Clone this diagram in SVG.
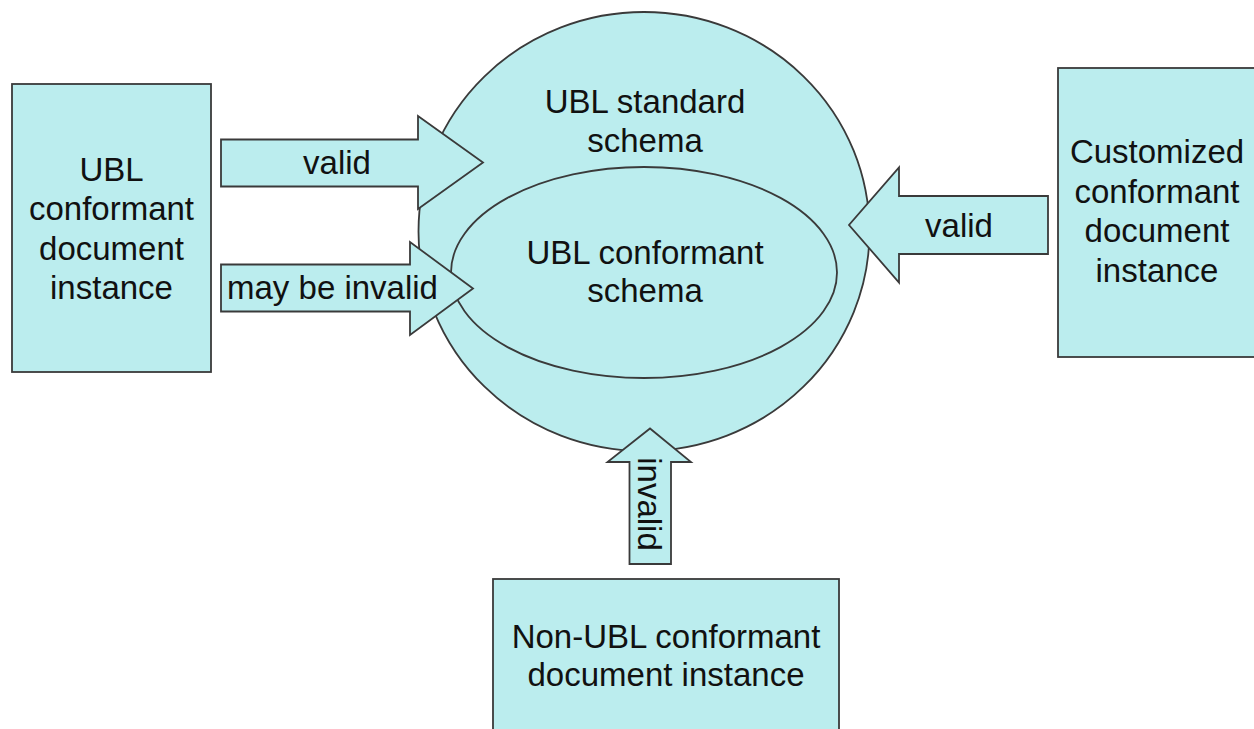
<svg xmlns="http://www.w3.org/2000/svg" width="1254" height="729" viewBox="0 0 1254 729">
<style>
.shape{fill:#BBEDEE;stroke:#3a3a3a;stroke-width:1.8;stroke-linejoin:miter}
.t{font-family:"Liberation Sans",Arial,sans-serif;font-size:33px;fill:#111;text-anchor:middle}
</style>
<rect width="1254" height="729" fill="#ffffff"/>
<g id="standard-schema">
<ellipse class="shape" cx="644" cy="231.5" rx="225.5" ry="219.5"/>
<text class="t" x="645" y="113">UBL standard</text>
<text class="t" x="645" y="152">schema</text>
</g>
<g id="conformant-schema">
<ellipse class="shape" cx="644" cy="272.5" rx="193" ry="105.5"/>
<text class="t" x="645" y="264">UBL conformant</text>
<text class="t" x="645" y="302">schema</text>
</g>
<g id="connectors">
<g id="arrow-valid-left">
<polygon class="shape" points="221,139.5 418,139.5 418,116 483,162.5 418,209 418,186.5 221,186.5"/>
<text class="t" x="337" y="174">valid</text>
</g>
<g id="arrow-may-be-invalid">
<polygon class="shape" points="221,264.5 410,264.5 410,242 473,288.5 410,335 410,311.5 221,311.5"/>
<text class="t" x="332.5" y="299">may be invalid</text>
</g>
<g id="arrow-valid-right">
<polygon class="shape" points="1048,196 899,196 899,167.5 849,225 899,282.5 899,254 1048,254"/>
<text class="t" x="959" y="237">valid</text>
</g>
<g id="arrow-invalid">
<polygon class="shape" points="629.5,564 629.5,462 607.5,462 650,428.5 691,462 671,462 671,564"/>
<text class="t" transform="translate(638,504) rotate(90)" x="0" y="0">invalid</text>
</g>
</g>
<g id="ubl-instance">
<rect class="shape" x="12" y="84" width="199" height="288"/>
<text class="t" x="111.5" y="181">UBL</text>
<text class="t" x="111.5" y="220">conformant</text>
<text class="t" x="111.5" y="260">document</text>
<text class="t" x="111.5" y="299">instance</text>
</g>
<g id="customized-instance">
<rect class="shape" x="1058" y="68" width="220" height="289"/>
<text class="t" x="1157" y="163">Customized</text>
<text class="t" x="1157" y="203">conformant</text>
<text class="t" x="1157" y="242">document</text>
<text class="t" x="1157" y="282">instance</text>
</g>
<g id="non-ubl-instance">
<rect class="shape" x="493" y="579" width="346" height="170"/>
<text class="t" x="666" y="648">Non-UBL conformant</text>
<text class="t" x="666" y="686">document instance</text>
</g>
</svg>
